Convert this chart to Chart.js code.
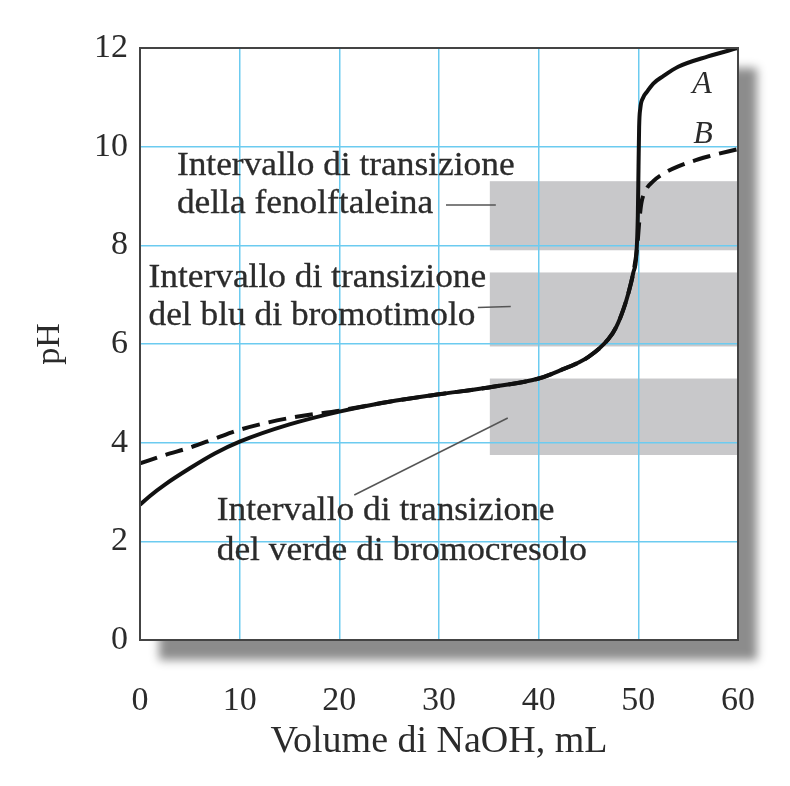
<!DOCTYPE html>
<html>
<head>
<meta charset="utf-8">
<script src="https://cdn.jsdelivr.net/npm/chart.js@4.4.0/dist/chart.umd.min.js"></script>
<style>
  body { margin: 0; background: #fff; }
</style>
</head>
<body>
<canvas id="titolazione" width="790" height="786"></canvas>
<script>
// Curva A (linea continua): volume di NaOH in mL e pH
const volA = [0, 1, 2.5, 5, 7.5, 10, 15, 20, 25, 30, 35, 40, 42, 45, 47, 47.8, 48.5, 49, 49.5, 49.8, 49.95, 50.02, 50.08, 50.2, 50.5, 50.9, 51.5, 52.5, 54, 57, 60];
const phA  = [2.74, 2.92, 3.15, 3.48, 3.78, 4.02, 4.37, 4.63, 4.83, 4.98, 5.12, 5.3, 5.45, 5.74, 6.1, 6.35, 6.7, 7.03, 7.45, 7.8, 8.6, 9.6, 10.4, 10.78, 11.0, 11.12, 11.28, 11.43, 11.62, 11.83, 12.0];

// Curva B (tratteggiata)
const volB = [0, 2.5, 5, 7.5, 10, 15, 20, 25, 30, 35, 40, 42, 45, 47, 47.8, 48.5, 49, 49.5, 49.9, 50.1, 50.3, 50.7, 51.5, 52.5, 54, 57, 60];
const phB  = [3.58, 3.75, 3.9, 4.08, 4.26, 4.5, 4.65, 4.83, 4.98, 5.12, 5.3, 5.45, 5.74, 6.1, 6.35, 6.7, 7.03, 7.45, 8.0, 8.5, 8.85, 9.1, 9.3, 9.45, 9.6, 9.8, 9.95];

// intervalli di viraggio [pH min, pH max] (fenolftaleina, blu di bromotimolo, verde di bromocresolo)
const bande = [[7.9, 9.3], [5.95, 7.45], [3.75, 5.3]];
const bandaDa = 35.1;   // mL
const bandaA = 60;

const font = "'Liberation Serif', 'Times New Roman', serif";
const testo = '#2b2b2b';

const toXY = (xs, ys) => xs.map((v, i) => ({ x: v, y: ys[i] }));

// sfondo, ombra del riquadro e bande grigie (sotto la griglia)
const sfondo = {
    id: 'sfondo',
    beforeDraw(chart) {
        const { ctx, chartArea: a, scales: { x, y } } = chart;
        ctx.save();
        ctx.fillStyle = '#fff';
        ctx.fillRect(0, 0, chart.width, chart.height);
        ctx.shadowColor = 'rgba(0,0,0,0.45)';
        ctx.shadowBlur = 9;
        ctx.shadowOffsetX = 19;
        ctx.shadowOffsetY = 20;
        ctx.fillRect(a.left, a.top, a.width, a.height);
        ctx.restore();

        ctx.save();
        ctx.fillStyle = '#c8c8ca';
        const x0 = x.getPixelForValue(bandaDa);
        const x1 = x.getPixelForValue(bandaA);
        bande.forEach(([lo, hi]) => {
            const y0 = y.getPixelForValue(hi);
            const y1 = y.getPixelForValue(lo);
            ctx.fillRect(x0, y0, x1 - x0, y1 - y0);
        });
        ctx.restore();
    }
};

// cornice, didascalie e linee di richiamo
const didascalie = {
    id: 'didascalie',
    afterDraw(chart) {
        const { ctx, chartArea: a, scales: { x, y } } = chart;
        ctx.save();
        ctx.strokeStyle = '#444';
        ctx.lineWidth = 2;
        ctx.strokeRect(a.left, a.top, a.width, a.height);

        ctx.strokeStyle = '#555';
        ctx.lineWidth = 1.5;
        const linee = [
            [30.7, 8.82, 35.7, 8.82],
            [33.9, 6.74, 37.2, 6.76],
            [21.5, 2.94, 36.9, 4.5]
        ];
        linee.forEach(([xa, ya, xb, yb]) => {
            ctx.beginPath();
            ctx.moveTo(x.getPixelForValue(xa), y.getPixelForValue(ya));
            ctx.lineTo(x.getPixelForValue(xb), y.getPixelForValue(yb));
            ctx.stroke();
        });

        ctx.fillStyle = testo;
        ctx.strokeStyle = testo;
        ctx.lineWidth = 0.3;
        ctx.font = `34px ${font}`;
        ctx.textAlign = 'left';
        ctx.textBaseline = 'alphabetic';
        const righe = [
            ['Intervallo di transizione', 3.7, 9.43],
            ['della fenolftaleina', 3.7, 8.66],
            ['Intervallo di transizione', 0.85, 7.16],
            ['del blu di bromotimolo', 0.85, 6.39],
            ['Intervallo di transizione', 7.7, 2.43],
            ['del verde di bromocresolo', 7.7, 1.62]
        ];
        righe.forEach(([t, vx, vy]) => {
            ctx.save();
            ctx.translate(x.getPixelForValue(vx), y.getPixelForValue(vy));
            ctx.scale(1.04, 1); // il testo originale è un po' più largo
            ctx.fillText(t, 0, 0);
            ctx.strokeText(t, 0, 0);
            ctx.restore();
        });

        ctx.font = `italic 32px ${font}`;
        ctx.textAlign = 'center';
        ctx.textBaseline = 'middle';
        ctx.fillText('A', x.getPixelForValue(56.4), y.getPixelForValue(11.25));
        ctx.fillText('B', x.getPixelForValue(56.5), y.getPixelForValue(10.24));
        ctx.restore();
    }
};

new Chart(document.getElementById('titolazione'), {
    type: 'line',
    data: {
        datasets: [
            {
                label: 'A',
                data: toXY(volA, phA),
                borderColor: '#111',
                borderWidth: 4,
                pointRadius: 0,
                cubicInterpolationMode: 'monotone',
                fill: false
            },
            {
                label: 'B',
                data: toXY(volB, phB),
                borderColor: '#111',
                borderWidth: 4,
                borderDash: [18, 9],
                pointRadius: 0,
                cubicInterpolationMode: 'monotone',
                fill: false
            }
        ]
    },
    options: {
        responsive: false,
        animation: false,
        layout: { padding: { top: 48, right: 52, left: 0, bottom: 0 } },
        plugins: {
            legend: { display: false },
            tooltip: { enabled: false }
        },
        scales: {
            x: {
                type: 'linear',
                min: 0,
                max: 60,
                ticks: { stepSize: 10, padding: 41, color: testo, font: { family: font, size: 34 } },
                grid: { color: '#6ccbf0', lineWidth: 1.5, drawTicks: false },
                border: { display: false },
                title: {
                    display: true,
                    text: 'Volume di NaOH, mL',
                    color: testo,
                    font: { family: font, size: 38 },
                    padding: { top: 0, bottom: 21 }
                },
                afterFit: s => {
                    s.height = 146;
                    // margini gestiti da layout.padding
                    s.paddingLeft = 0;
                    s.paddingRight = 0;
                }
            },
            y: {
                min: 0,
                max: 12,
                ticks: { stepSize: 2, padding: 12, color: testo, font: { family: font, size: 34 } },
                grid: { color: '#6ccbf0', lineWidth: 1.5, drawTicks: false },
                border: { display: false },
                title: {
                    display: true,
                    text: 'pH',
                    color: testo,
                    font: { family: font, size: 34 },
                    padding: { top: 30, bottom: 0 }
                },
                afterFit: s => { s.width = 140; }
            }
        }
    },
    plugins: [sfondo, didascalie]
});
</script>
</body>
</html>
